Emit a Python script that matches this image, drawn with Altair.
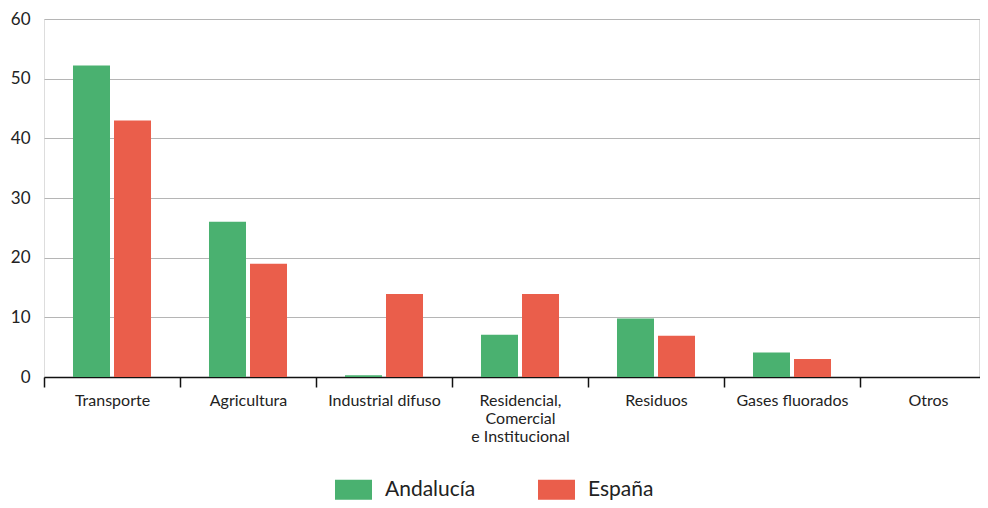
import altair as alt
import pandas as pd

categories = ["Transporte", "Agricultura", "Industrial difuso",
              "Residencial,\nComercial\ne Institucional", "Residuos",
              "Gases fluorados", "Otros"]
andalucia = [52.2, 26.0, 0.3, 7.1, 9.8, 4.1, 0.0]
espana = [43.0, 19.0, 13.9, 13.9, 6.9, 3.0, 0.0]
series = ["Andalucía", "España"]
colors = ["#4ab170", "#ea5e4b"]
y_ticks = [0, 10, 20, 30, 40, 50, 60]

rows = []
for c, a, e in zip(categories, andalucia, espana):
    rows.append({"cat": c, "serie": series[0], "valor": a})
    rows.append({"cat": c, "serie": series[1], "valor": e})
df = pd.DataFrame(rows)

FONT = "Lato"

chart = alt.Chart(df).mark_bar().encode(
    x=alt.X("cat:N", sort=categories, title=None,
            scale=alt.Scale(range=[0, 952], paddingInner=0, paddingOuter=0),
            axis=alt.Axis(labelAngle=0, labelExpr="split(datum.label, '\\n')",
                          tickBand="extent", tickSize=10, tickColor="#111",
                          tickWidth=1.5, domainColor="#111", domainWidth=1.5,
                          labelFontSize=16, labelColor="#222", labelFont=FONT,
                          labelPadding=5, labelLineHeight=18, grid=False)),
    xOffset=alt.XOffset("serie:N", sort=series,
                        scale=alt.Scale(paddingInner=0.0976, paddingOuter=0.707)),
    y=alt.Y("valor:Q", title=None,
            scale=alt.Scale(domain=[0, 60], nice=False),
            axis=alt.Axis(values=y_ticks, domain=False, ticks=False,
                          labelFontSize=17, labelColor="#222", labelFont=FONT,
                          labelPadding=14, gridColor="#b5b5b5", gridWidth=1.2)),
    color=alt.Color("serie:N", sort=series,
                    scale=alt.Scale(domain=series, range=colors),
                    legend=alt.Legend(title=None, orient="none", direction="horizontal",
                                      legendX=291, legendY=452, padding=0,
                                      symbolType="M-1,-0.54H1V0.54H-1Z",
                                      symbolSize=1369, symbolStrokeWidth=0,
                                      symbolOpacity=1,
                                      labelFontSize=21, labelFont=FONT,
                                      labelColor="#222", labelOffset=13,
                                      columnPadding=62)),
).properties(
    width=935, height=358,
    autosize=alt.AutoSizeParams(type="none"),
    padding={"left": 36, "top": 11, "right": 1, "bottom": 123},
).configure_view(stroke=None).configure(background="white")

chart.save("out.html", embed_options={"renderer": "svg", "actions": False})
